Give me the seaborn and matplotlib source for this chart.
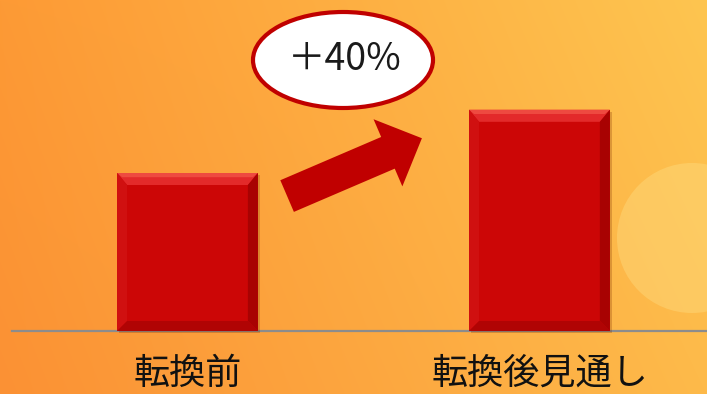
import numpy as np
import matplotlib
matplotlib.use("Agg")
import matplotlib.pyplot as plt
import matplotlib.colors as mcolors
from matplotlib.patches import Ellipse, Circle, Polygon, FancyArrowPatch, Rectangle
import seaborn as sns

# --- data -------------------------------------------------------------
categories = ["転換前", "転換後見通し"]
values = [100, 140]

bar_red = "#cc0606"
arrow_red = "#c00000"

sns.set_theme(style="white")
plt.rcParams["font.family"] = ["Noto Sans CJK JP", "DejaVu Sans"]

W, H = 707, 394
fig = plt.figure(figsize=(W / 100, H / 100), dpi=100)

# --- warm gradient backdrop ------------------------------------------
bg = fig.add_axes([0, 0, 1, 1])
tl = np.array(mcolors.to_rgb("#fd9a35"))
tr = np.array(mcolors.to_rgb("#fec550"))
bl = np.array(mcolors.to_rgb("#fb9134"))
br = np.array(mcolors.to_rgb("#feba4a"))
u = np.linspace(0, 1, W)[None, :, None]
v = np.linspace(0, 1, H)[:, None, None]
top = tl * (1 - u) + tr * u
bot = bl * (1 - u) + br * u
grad = top * (1 - v) + bot * v
bg.imshow(grad, extent=(0, W, H, 0), aspect="auto", zorder=0)
bg.add_patch(Circle((692, 238), 75, facecolor="#ffe48c", alpha=0.35,
                    edgecolor="none", zorder=1))
bg.set_xlim(0, W)
bg.set_ylim(H, 0)
bg.axis("off")

# --- bars ---------------------------------------------------------------
ax = fig.add_axes([12 / W, (H - 331) / H, (W - 12) / W, 331 / H])
ax.patch.set_alpha(0)
sns.barplot(x=categories, y=values, color=bar_red, saturation=1,
            width=0.4, linewidth=0, ax=ax, zorder=3)
ax.set_xlim(-0.4986, 1.476)
ax.set_ylim(0, 209.5)

# pixel -> data conversion for bevel sizes
px_x = (1.476 + 0.4986) / (W - 12)
px_y = 209.5 / 331
bx, by = 10 * px_x, 10 * px_y
tby = 12 * px_y

for p in list(ax.patches):
    x0 = p.get_x()
    x1 = x0 + p.get_width()
    h = p.get_height()
    # soft drop shadow
    ax.add_patch(Rectangle((x0 + 2 * px_x, -2 * px_y), p.get_width(), h,
                           facecolor="#7a2a00", alpha=0.25, edgecolor="none",
                           zorder=2, clip_on=False))
    # bevel faces
    ax.add_patch(Polygon([(x0, h), (x1, h), (x1 - bx, h - tby), (x0 + bx, h - tby)],
                         closed=True, facecolor="#e32a2a", edgecolor="none", zorder=4))
    ax.add_patch(Polygon([(x0, h), (x1, h), (x1 - 0.5 * bx, h - 0.35 * tby),
                          (x0 + 0.5 * bx, h - 0.35 * tby)],
                         closed=True, facecolor="#ee4a40", edgecolor="none", zorder=4))
    ax.add_patch(Polygon([(x0, 0), (x0, h), (x0 + bx, h - tby), (x0 + bx, by)],
                         closed=True, facecolor="#d01010", edgecolor="none", zorder=4))
    ax.add_patch(Polygon([(x1, 0), (x1, h), (x1 - bx, h - tby), (x1 - bx, by)],
                         closed=True, facecolor="#a80202", edgecolor="none", zorder=4))
    ax.add_patch(Polygon([(x0, 0), (x1, 0), (x1 - bx, by), (x0 + bx, by)],
                         closed=True, facecolor="#b00404", edgecolor="none", zorder=4))

# --- growth arrow between the bars ----------------------------------------
arrow = FancyArrowPatch((0.283, 85.4 * values[0] / 100), (0.666, 122 * values[0] / 100),
                        arrowstyle="simple,head_length=26.6,head_width=52.6,tail_width=24.8",
                        mutation_scale=1, shrinkA=0, shrinkB=0,
                        facecolor=arrow_red, edgecolor="none", zorder=5)
ax.add_patch(arrow)

# --- growth badge ---------------------------------------------------------
growth = (values[1] / values[0] - 1) * 100
bg.add_patch(Ellipse((343, 60), 180, 96, facecolor="white",
                     edgecolor=arrow_red, linewidth=3.0, zorder=5))
bg.text(345, 59, f"＋{growth:.0f}%", ha="center", va="center",
        fontsize=27, color="#1a1a1a", zorder=6)

# --- axis styling ---------------------------------------------------------
ax.set_xticks([0, 1])
ax.set_xticklabels(categories, fontsize=26, color="#111111")
ax.tick_params(axis="x", length=0, pad=18)
ax.set_yticks([])
ax.set_xlabel("")
ax.set_ylabel("")
for s in ("top", "left", "right"):
    ax.spines[s].set_visible(False)
ax.spines["bottom"].set_color("#8c8c8c")
ax.spines["bottom"].set_linewidth(1.6)
ax.spines["bottom"].set_zorder(1)

fig.savefig("out.png", dpi=100)
